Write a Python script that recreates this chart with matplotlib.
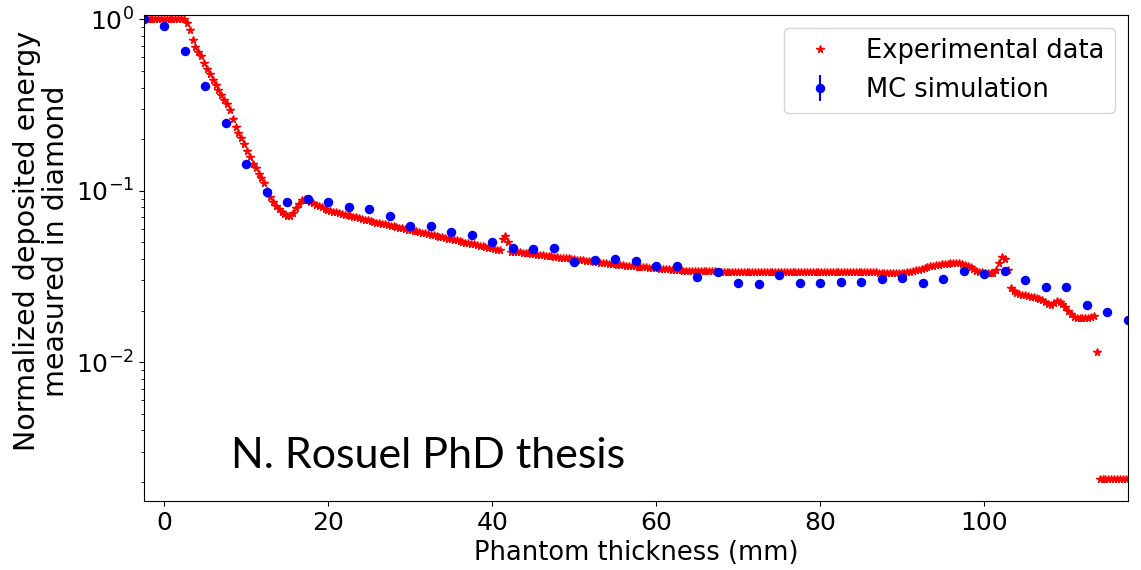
import numpy as np
import matplotlib
matplotlib.use("Agg")
import matplotlib.pyplot as plt

# Measured deposited energy in the diamond detector, sampled every 0.35 mm
exp_start = -2.5
exp_step = 0.35
exp_y = [
    1.0, 1.0, 1.0, 1.0, 1.0, 1.0, 1.0, 1.0, 1.0, 1.0, 1.0, 1.0, 1.0, 1.0, 1.0,
    0.955, 0.867, 0.759, 0.687, 0.646, 0.612, 0.556, 0.516, 0.478, 0.442,
    0.412, 0.386, 0.361, 0.339, 0.320, 0.295, 0.262, 0.236, 0.217, 0.204,
    0.188, 0.171, 0.157, 0.144, 0.135, 0.125, 0.119, 0.111, 0.100, 0.0916,
    0.0855, 0.0817, 0.0783, 0.0755, 0.0735, 0.0713, 0.0711, 0.0746, 0.0791, 0.0838,
    0.0883, 0.0891, 0.0879, 0.0863, 0.0843, 0.0828, 0.0815, 0.0800, 0.0783, 0.0769,
    0.0762, 0.0755, 0.0748, 0.0740, 0.0733, 0.0726, 0.0719, 0.0713, 0.0706, 0.0700,
    0.0692, 0.0686, 0.0679, 0.0673, 0.0667, 0.0659, 0.0653, 0.0647, 0.0641, 0.0637,
    0.0631, 0.0625, 0.0621, 0.0615, 0.0610, 0.0604, 0.0600, 0.0594, 0.0589, 0.0583,
    0.0579, 0.0574, 0.0569, 0.0564, 0.0560, 0.0555, 0.0550, 0.0545, 0.0540, 0.0536,
    0.0531, 0.0526, 0.0521, 0.0518, 0.0513, 0.0508, 0.0504, 0.0499, 0.0495, 0.0491,
    0.0486, 0.0482, 0.0479, 0.0474, 0.0470, 0.0466, 0.0462, 0.0458, 0.0454, 0.0451,
    0.0525, 0.0548, 0.0500, 0.0442, 0.0441, 0.0439, 0.0437, 0.0435, 0.0433, 0.0431,
    0.0428, 0.0426, 0.0424, 0.0422, 0.0420, 0.0418, 0.0416, 0.0414, 0.0412, 0.0410,
    0.0408, 0.0406, 0.0405, 0.0403, 0.0401, 0.0399, 0.0397, 0.0395, 0.0393, 0.0391,
    0.0389, 0.0387, 0.0385, 0.0383, 0.0381, 0.0379, 0.0378, 0.0375, 0.0373, 0.0372,
    0.0370, 0.0369, 0.0367, 0.0366, 0.0365, 0.0364, 0.0362, 0.0361, 0.0360, 0.0359,
    0.0357, 0.0356, 0.0355, 0.0354, 0.0353, 0.0352, 0.0351, 0.0349, 0.0348, 0.0347,
    0.0346, 0.0344, 0.0344, 0.0342, 0.0342, 0.0341, 0.0341, 0.0341, 0.0340, 0.0340,
    0.0340, 0.0340, 0.0339, 0.0339, 0.0339, 0.0338, 0.0338, 0.0338, 0.0338, 0.0338,
    0.0338, 0.0338, 0.0338, 0.0338, 0.0338, 0.0338, 0.0338, 0.0338, 0.0338, 0.0338,
    0.0338, 0.0338, 0.0338, 0.0338, 0.0338, 0.0338, 0.0337, 0.0337, 0.0337, 0.0337,
    0.0337, 0.0337, 0.0337, 0.0337, 0.0337, 0.0337, 0.0337, 0.0337, 0.0337, 0.0337,
    0.0337, 0.0337, 0.0337, 0.0337, 0.0337, 0.0337, 0.0336, 0.0336, 0.0336, 0.0336,
    0.0336, 0.0336, 0.0336, 0.0336, 0.0336, 0.0336, 0.0336, 0.0336, 0.0336, 0.0336,
    0.0334, 0.0332, 0.0331, 0.0330, 0.0330, 0.0330, 0.0330, 0.0331, 0.0331, 0.0332,
    0.0333, 0.0334, 0.0336, 0.0339, 0.0343, 0.0347, 0.0351, 0.0355, 0.0359, 0.0362,
    0.0365, 0.0368, 0.0370, 0.0372, 0.0374, 0.0376, 0.0377, 0.0378, 0.0378, 0.0377,
    0.0375, 0.0371, 0.0366, 0.0358, 0.0348, 0.0341, 0.0337, 0.0334, 0.0333, 0.0332,
    0.0331, 0.0331, 0.0345, 0.0380, 0.0413, 0.0399, 0.0345, 0.0270, 0.0260, 0.0252,
    0.0249, 0.0247, 0.0245, 0.0243, 0.0241, 0.0239, 0.0237, 0.0234, 0.0231, 0.0226,
    0.0220, 0.0216, 0.0222, 0.0229, 0.0226, 0.0220, 0.0210, 0.0200, 0.0190, 0.0184,
    0.0182, 0.0181, 0.0181, 0.0182, 0.0182, 0.0183, 0.0185, 0.0114, 0.00208, 0.00208,
    0.00208, 0.00208, 0.00208, 0.00208, 0.00208, 0.00208, 0.00208, 0.00208,
]
exp_x = exp_start + exp_step * np.arange(len(exp_y))

# Monte Carlo simulation, one point every 2.5 mm
mc_x = [-2.5, 0.0, 2.5, 5.0, 7.5, 10.0, 12.5, 15.0, 17.5, 20.0,
        22.5, 25.0, 27.5, 30.0, 32.5, 35.0, 37.5, 40.0, 42.5, 45.0,
        47.5, 50.0, 52.5, 55.0, 57.5, 60.0, 62.5, 65.0, 67.5, 70.0,
        72.5, 75.0, 77.5, 80.0, 82.5, 85.0, 87.5, 90.0, 92.5, 95.0,
        97.5, 100.0, 102.5, 105.0, 107.5, 110.0, 112.5, 115.0, 117.5]
mc_y = [1.0, 0.914, 0.653, 0.408, 0.248, 0.143, 0.099, 0.0864, 0.0892, 0.0857,
        0.080, 0.078, 0.0716, 0.0623, 0.0623, 0.0577, 0.0552, 0.0505, 0.0462, 0.0456,
        0.0462, 0.0383, 0.0393, 0.0399, 0.0388, 0.0364, 0.0364, 0.0316, 0.0338, 0.0291,
        0.0285, 0.0323, 0.0291, 0.0291, 0.0295, 0.0295, 0.0306, 0.0309, 0.0291, 0.0306,
        0.0342, 0.0327, 0.0342, 0.0302, 0.0276, 0.0276, 0.0216, 0.0195, 0.0177]
mc_rel_err = 0.015

fig = plt.figure(figsize=(11.41, 5.70), dpi=100)
ax = fig.add_axes([0.126, 0.121, 0.8626, 0.8527])

ax.plot(exp_x, exp_y, linestyle="none", marker="*", color="red",
        markersize=5.5, label="Experimental data")
ax.errorbar(mc_x, mc_y, yerr=np.array(mc_y) * mc_rel_err, fmt="o",
            color="blue", markersize=5.8, label="MC simulation")

ax.set_yscale("log")
ax.set_xlim(-2.5, 117.5)
ax.set_ylim(0.00155, 1.06)
ax.set_xticks([0, 20, 40, 60, 80, 100])

ax.set_xlabel("Phantom thickness (mm)", fontsize=18.5)
ax.set_ylabel("Normalized deposited energy\nmeasured in diamond",
              fontsize=20.5, y=0.535, linespacing=1.05)
ax.tick_params(axis="both", which="major", labelsize=18)

ax.legend(loc="upper right", fontsize=18.5)

ax.text(0.089, 0.068, "N. Rosuel PhD thesis", transform=ax.transAxes,
        fontsize=31, family="Lato", ha="left", va="baseline")

fig.savefig("out.png", dpi=100)
